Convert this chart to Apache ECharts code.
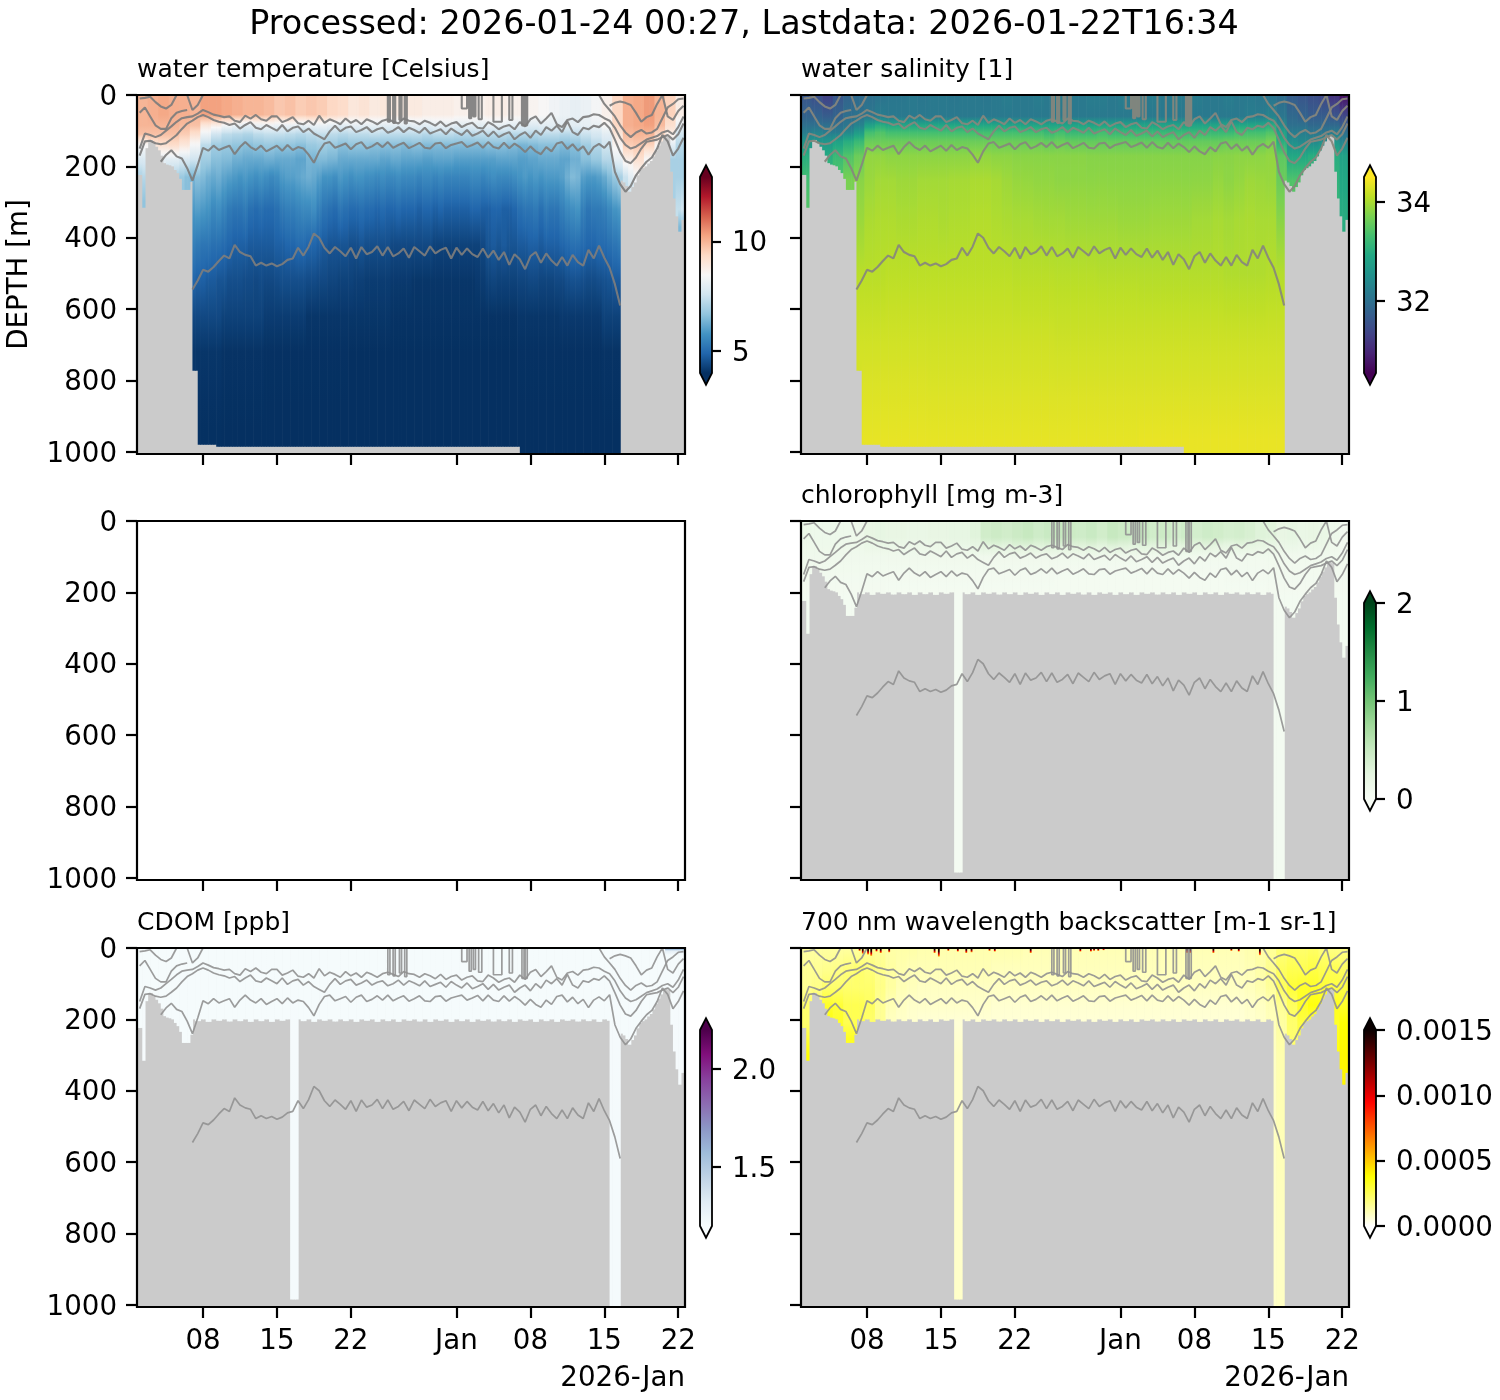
<!DOCTYPE html>
<html><head><meta charset="utf-8"><title>glider</title>
<script src="https://cdn.jsdelivr.net/npm/echarts@6/dist/echarts.min.js"></script>
<style>html,body{margin:0;padding:0;background:#fff}#c{width:1500px;height:1400px}</style></head>
<body><div id="c"></div>
<script>
// ---------- tick labels ----------
const tickDays=[8,15,22,32,39,46,53];
const tickLabels=['08','15','22','Jan','08','15','22'];
const depthTicks=[0,200,400,600,800,1000];
// ---------- isopycnal contours (half-day samples, depth in m) ----------
const L0=[10,8,5,20,32,38,28,0,null,0,42,28,0,null,null,null,null,null,null,null,null,null,null,null,null,null,null,null,null,null,null,null,null,null,null,null,null,null,null,null,null,null,null,null,null,null,null,null,null,null,null,null,null,null,null,null,null,null,null,null,null,null,null,null,null,null,null,null,null,null,null,null,null,null,null,null,null,null,null,null,null,null,null,null,null,null,null,0,25,42,60,85,105,118,105,98,108,105,95,65,35,25,12,10];
const L5=[50,35,60,85,95,95,65,50,45,42,null,null,null,null,null,null,null,null,null,null,null,null,null,null,null,null,null,null,null,null,null,null,null,null,null,null,null,null,null,null,null,null,null,null,null,null,null,null,null,null,null,null,null,null,null,null,null,null,null,null,null,null,null,null,null,null,null,null,null,null,null,null,null,null,null,null,null,null,null,null,null,null,null,null,null,null,null,null,null,30,22,18,22,28,50,75,62,56,25,0,60,70,45,30];
const L1=[150,108,112,118,112,100,88,75,65,62,60,52,42,48,55,58,62,60,72,76,58,66,56,68,72,60,60,76,70,62,79,82,72,84,58,78,68,74,82,66,78,70,82,68,74,82,72,68,74,80,66,72,74,82,72,78,86,74,88,80,76,90,82,78,92,94,76,84,96,88,84,96,76,88,68,60,80,66,50,82,90,70,66,76,62,60,54,56,65,72,92,120,140,150,145,135,125,120,115,105,100,110,90,60];
const L2=[170,130,128,135,138,135,124,112,95,80,72,62,56,62,70,75,78,84,80,94,84,76,92,96,84,92,100,84,102,92,88,104,94,108,116,124,102,86,102,92,88,104,98,90,104,96,92,106,100,90,104,92,98,106,92,108,102,96,110,94,104,112,98,114,108,100,116,102,118,110,104,124,112,104,120,100,112,90,100,86,104,74,104,112,92,96,86,90,78,93,125,160,185,191,175,150,131,128,125,118,112,125,110,80];
const L3=[null,null,null,null,187,168,155,172,178,205,240,196,148,156,142,154,148,142,166,146,132,146,154,142,158,150,142,156,140,154,146,150,167,190,158,136,132,148,142,136,152,138,132,150,144,134,146,132,148,140,134,149,142,134,148,150,136,134,149,140,136,132,146,140,133,148,132,146,150,134,149,136,146,160,144,158,166,146,158,136,132,151,138,156,144,167,146,137,148,131,215,250,271,255,225,205,187,175,150,112,130,170,150,120];
const L4=[null,null,null,null,null,null,null,null,null,null,545,520,490,495,482,465,450,458,420,440,448,452,478,470,478,472,480,474,462,458,428,450,425,388,400,428,444,426,438,452,428,458,426,446,440,424,450,426,452,444,430,456,426,438,450,424,444,434,428,458,428,448,430,446,454,430,456,436,462,440,476,446,460,488,452,440,470,444,464,478,454,478,448,468,478,434,458,422,456,484,530,590,null,null,null,null,null,null,null,null,null,null,null,null];
// narrow excursions of the shallowest contour: start day, end day, depth
const spikeStart=[25.5,26.0,26.6,27.1,32.5,33.2,33.6,34.1,35.5,37.0,38.2,38.5];
const spikeEnd=[25.7,26.2,26.8,27.3,33.0,33.4,33.8,34.4,36.3,37.3,38.4,38.7];
const spikeDepth=[75,78,70,80,38,65,60,68,75,70,85,85];
// ---------- data bottom per quarter-day column (m): [depth, columns] ----------
const deepRuns=[[224,2],[316,1],[149,1],[126,2],[135,1],[145,1],[155,1],[170,1],[191,1],[195,1],[197,1],[200,1],[210,1],[219,1],[235,1],[266,3],[243,1],[773,2],[980,7],[986,115],[1005,38],[240,1],[245,1],[255,1],[271,1],[258,1],[245,1],[225,1],[210,1],[205,1],[200,1],[192,1],[185,1],[172,1],[156,1],[142,1],[130,1],[118,1],[112,1],[118,1],[215,1],[290,1],[340,1],[383,1],[350,1],[300,1]];
const combBottom=[200,207,200,205,200,207,200,204,200,207,200,205,200,207,200,204,200,206,200,205,200,207,200,205,200,207,200,204,200,207,200,205,200,207,200,204,200,206,200,205,200,207,200,204,200,207,200,205,200,207,200,204,200,206,200,207,200,204,200,207,200,205,200,207,200,204,200,206,200,205,200,207,200,204,200,207,200,205,200,207,200,204,200,206,200,205,200,207,200,204,200,207,200,205,200,207,200,204,200,206,200,205,200,207];
// ---------- temperature: depth levels, degC ----------
const tempDepths=[0,55,85,110,140,180,230,320,420,520,620,720,1006];
const T0=[10.0,10.1,10.2,10.1,10.1,10.0,10.3,10.3,10.2,10.1,10.0,10.0,9.9,9.7,9.8,9.6,9.7,9.6,9.4,9.3,9.0,9.1,8.9,9.0,8.9,8.9,8.9,8.8,8.8,8.8,8.7,8.7,8.7,8.8,8.8,8.7,8.7,8.6,8.5,8.3,8.2,8.1,8.2,8.4,8.7,9.4,10.1,10.2,10.4,10.0,9.5,8.8];
const T85=[10.0,10.0,10.0,10.0,9.9,9.8,9.0,8.8,8.4,8.2,8.0,8.2,8.3,8.2,8.2,8.1,8.2,8.2,8.1,8.0,8.1,8.1,8.1,8.0,8.0,8.0,8.1,8.0,8.1,8.1,8.0,8.0,8.0,8.1,8.1,8.0,8.0,7.9,8.0,8.0,8.0,8.0,8.1,8.2,8.5,9.4,10.1,10.2,10.3,9.9,9.2,8.2];
const T110=[9.8,9.8,9.8,9.8,9.6,9.2,8.2,7.6,7.3,7.2,7.1,7.3,7.4,7.4,7.3,7.2,7.3,7.4,7.3,7.2,7.3,7.3,7.4,7.3,7.3,7.3,7.3,7.2,7.3,7.3,7.2,7.2,7.3,7.3,7.3,7.2,7.2,7.2,7.3,7.3,7.2,7.3,7.5,7.7,8.0,9.0,9.9,10.0,10.0,9.4,8.8,7.6];
const T140=[8.5,9.0,9.2,9.3,9.0,8.4,7.3,6.9,6.8,6.7,6.6,6.7,6.8,6.7,6.7,6.6,6.8,6.9,6.8,6.6,6.7,6.7,6.6,6.6,6.6,6.5,6.6,6.5,6.5,6.5,6.5,6.5,6.5,6.6,6.6,6.5,6.4,6.5,6.6,6.6,6.5,6.6,6.9,7.2,7.6,8.6,9.6,9.7,9.5,8.6,8.0,7.2];
const T180=[7.8,8.2,8.0,8.0,7.8,7.6,6.9,6.6,6.5,6.3,6.2,6.2,6.3,6.2,6.2,6.1,6.4,6.5,6.4,6.2,6.2,6.2,6.2,6.1,6.2,6.1,6.1,6.0,6.1,6.1,6.0,6.0,6.0,6.0,6.1,6.1,6.0,6.1,6.2,6.2,6.1,6.3,6.6,6.8,7.2,8.1,8.8,9.2,8.5,7.5,7.0,7.0];
const T230=[7.0,7.2,7.3,7.3,7.2,7.1,7.0,6.9,6.8,6.6,6.4,6.6,6.5,6.3,6.2,6.3,6.1,6.0,5.9,5.8,5.9,5.8,5.7,5.8,5.7,5.6,5.7,5.9,6.0,6.0,6.1,6.2,6.3,6.2,6.0,5.8,5.8,5.7,5.9,5.8,5.7,5.8,5.8,5.7,5.7,5.6,5.7,5.6,5.6,5.7,5.6,5.6,5.6,5.5,5.6,5.6,5.5,5.6,5.5,5.5,5.5,5.5,5.5,5.6,5.6,5.5,5.6,5.7,5.6,5.6,5.6,5.7,5.8,5.9,5.8,5.9,5.8,5.9,5.9,5.9,6.0,6.3,6.5,6.4,6.0,5.9,5.9,6.0,6.2,6.5,6.8,7.0,7.5,8.0,8.3,8.5,8.2,7.8,7.4,7.0,7.0,7.0,7.0,7.0];
const T320=[6.5,6.5,6.5,6.5,6.5,6.5,6.5,6.5,6.5,6.5,5.9,6.0,5.9,5.8,5.6,5.7,5.5,5.3,5.2,5.2,5.3,5.1,5.0,5.1,5.0,5.0,5.1,5.3,5.4,5.4,5.5,5.6,5.6,5.7,5.4,5.2,5.1,5.0,5.2,5.1,5.0,5.0,5.1,5.0,5.0,4.9,5.0,4.9,4.9,5.0,4.9,4.9,4.9,4.8,4.9,4.9,4.8,4.9,4.8,4.8,4.8,4.8,4.8,4.9,4.9,4.8,4.8,4.9,4.9,4.8,4.8,4.9,5.1,5.2,5.2,5.3,5.1,5.3,5.2,5.2,5.4,5.6,5.7,5.8,5.4,5.2,5.3,5.3,5.4,5.6,5.8,5.9,7.0,7.0,7.0,7.0,7.0,7.0,7.0,7.0,7.0,7.0,7.4,7.6];
const T420=[5.5,5.5,5.5,5.5,5.5,5.5,5.5,5.5,5.5,5.5,5.4,5.3,5.2,5.2,5.1,5.1,5.0,4.9,4.8,4.8,4.8,4.7,4.7,4.7,4.7,4.7,4.8,4.8,4.9,4.9,5.0,5.0,4.9,4.9,4.8,4.7,4.6,4.6,4.6,4.6,4.5,4.5,4.6,4.5,4.5,4.5,4.5,4.5,4.4,4.4,4.4,4.4,4.4,4.4,4.4,4.4,4.3,4.3,4.3,4.3,4.3,4.3,4.3,4.3,4.3,4.4,4.6,4.7,4.6,4.7,4.6,4.6,4.7,4.7,4.8,4.8,4.7,4.8,4.8,4.8,4.9,5.0,5.1,5.1,5.0,4.9,4.9,5.0,5.0,5.1,5.2,5.3,5.5,5.5,5.5,5.5,5.5,5.5,5.5,5.5,5.5,5.5,5.5,5.5];
const T520=[5.0,5.0,5.0,5.0,5.0,5.0,5.0,5.0,5.0,5.0,4.9,4.8,4.8,4.7,4.7,4.6,4.6,4.5,4.5,4.5,4.45,4.45,4.4,4.45,4.4,4.4,4.45,4.5,4.5,4.5,4.5,4.5,4.45,4.45,4.4,4.4,4.35,4.35,4.3,4.3,4.3,4.25,4.25,4.2,4.2,4.2,4.2,4.2,4.15,4.15,4.15,4.15,4.1,4.1,4.1,4.1,4.1,4.1,4.1,4.1,4.1,4.1,4.1,4.1,4.15,4.2,4.3,4.35,4.3,4.3,4.3,4.3,4.35,4.35,4.4,4.4,4.35,4.35,4.35,4.4,4.4,4.5,4.55,4.55,4.5,4.45,4.45,4.5,4.55,4.6,4.7,4.7,4.7,4.7,4.7,4.7,4.7,4.7,4.7,4.7,4.7,4.7,4.7,4.7];
const T620=[4.5,4.4,4.3,4.2,4.1,4.1,4.05,4.05,4.05,4.1,4.15,4.3,4.3];
const T720=[4.1,4.1,4.05,4.02,4.02,4.0,4.0,4.0,4.0,4.02,4.02,4.05,4.05];
const T1006=[3.98];
// ---------- salinity ----------
const saltDepths=[0,60,85,105,130,170,240,350,500,700,850,1006];
const S0=[31.6,31.5,31.3,31.6,31.8,31.9,32.0,32.05,32.1,32.1,32.15,32.1,32.15,32.15,32.1,32.15,32.15,32.1,32.15,32.2,32.15,32.15,32.2,32.15,32.2,32.15,32.15,32.2,32.2,32.15,32.2,32.15,32.15,32.2,32.15,32.2,32.15,32.2,32.15,32.15,32.2,32.15,32.15,32.1,32.05,31.95,31.7,31.6,31.5,31.4,31.1,30.7];
const S60=[31.8,31.8,31.7,31.8,32.0,32.05,32.1,32.2,32.15,32.15,32.15,32.15,32.15,32.15,32.15,32.15,32.15,32.15,32.15,32.15,32.15,32.15,32.15,32.15,32.15,32.15,32.15,32.15,32.15,32.15,32.15,32.15,32.15,32.15,32.15,32.15,32.15,32.15,32.15,32.15,32.15,32.15,32.2,32.2,32.3,32.1,31.9,31.8,31.7,31.7,31.6,31.4];
const S85=[32.0,32.0,32.0,32.0,32.1,32.3,32.8,33.0,32.9,32.9,32.9,32.9,32.9,32.9,32.9,32.9,32.9,32.9,32.9,32.85,32.85,32.85,32.85,32.85,32.85,32.85,32.85,32.85,32.85,32.85,32.85,32.85,32.85,32.85,32.85,32.85,32.85,32.85,32.85,32.85,32.85,32.9,32.9,32.9,33.0,32.4,32.0,32.0,31.9,31.9,31.9,31.7];
const S105=[32.2,32.3,32.2,32.2,32.4,32.7,33.3,33.4,33.3,33.3,33.3,33.3,33.3,33.3,33.3,33.3,33.3,33.3,33.3,33.3,33.3,33.3,33.3,33.2,33.3,33.2,33.2,33.2,33.3,33.2,33.2,33.2,33.2,33.2,33.2,33.2,33.2,33.2,33.2,33.2,33.2,33.3,33.3,33.3,33.4,32.8,32.2,32.2,32.1,32.1,32.2,32.0];
const S130=[32.6,32.6,32.6,32.8,33.0,33.2,33.6,33.6,33.6,33.6,33.6,33.6,33.6,33.6,33.6,33.6,33.6,33.6,33.6,33.6,33.6,33.6,33.6,33.55,33.6,33.55,33.55,33.55,33.55,33.55,33.55,33.55,33.55,33.55,33.55,33.55,33.55,33.55,33.55,33.55,33.6,33.6,33.6,33.6,33.7,33.0,32.5,32.4,32.4,32.5,32.6,32.3];
const S170=[33.0,33.0,33.0,33.2,33.4,33.6,33.85,33.85,33.82,33.82,33.82,33.82,33.82,33.82,33.82,33.82,33.85,33.85,33.82,33.82,33.8,33.8,33.8,33.8,33.8,33.8,33.8,33.78,33.78,33.78,33.78,33.78,33.78,33.78,33.78,33.78,33.78,33.78,33.78,33.8,33.8,33.82,33.82,33.82,33.85,33.5,32.9,32.9,33.0,33.0,33.0,32.8];
const S240=[33.3,33.3,33.3,33.5,33.7,33.8,33.9,33.95,33.95,33.92,33.92,33.95,33.95,33.95,33.97,33.97,34.0,34.0,33.97,33.92,33.88,33.87,33.85,33.85,33.83,33.83,33.83,33.82,33.83,33.82,33.82,33.82,33.82,33.82,33.83,33.83,33.82,33.83,33.83,33.87,33.83,33.87,33.92,33.9,33.88,33.6,33.4,33.4,33.3,33.2,33.1,32.9];
const S350=[33.5,33.5,33.5,33.6,33.8,33.9,34.0,34.02,34.02,34.0,34.0,34.02,34.02,34.0,34.02,34.02,34.05,34.05,34.02,34.0,33.98,33.98,33.96,33.95,33.95,33.93,33.93,33.92,33.92,33.92,33.9,33.9,33.9,33.92,33.92,33.92,33.92,33.95,33.95,33.98,33.95,33.98,34.0,33.98,33.98,33.8,33.6,33.6,33.5,33.4,33.2,33.0];
const S500=[34.06,34.08,34.1,34.1,34.1,34.08,34.07,34.06,34.05,34.05,34.03,34.05,34.05];
const S700=[34.23,34.23,34.23,34.22,34.22,34.22,34.21,34.21,34.21,34.21,34.21,34.21,34.21];
const S850=[34.31,34.31,34.31,34.3,34.3,34.3,34.3,34.3,34.3,34.3,34.3,34.3,34.3];
const S1006=[34.38,34.38,34.38,34.38,34.38,34.38,34.38,34.38,34.4,34.4,34.4,34.4,34.4];
// ---------- chlorophyll ----------
const chlDepths=[0,45,70,100,150,210,1006];
const C0=[0.15,0.12,0.12,0.12,0.12,0.13,0.2,0.22,0.2,0.2,0.18,0.18,0.2,0.2,0.22,0.22,0.28,0.42,0.45,0.42,0.46,0.5,0.44,0.48,0.5,0.46,0.44,0.48,0.42,0.5,0.46,0.44,0.48,0.42,0.46,0.4,0.44,0.4,0.44,0.42,0.38,0.4,0.36,0.3,0.28,0.2,0.22,0.18,0.2,0.18,0.12,0.06];
const C70=[0.12,0.12,0.12,0.12,0.12,0.12,0.16,0.16,0.16,0.15,0.14,0.14,0.15,0.15,0.16,0.16,0.2,0.26,0.28,0.26,0.3,0.3,0.28,0.3,0.3,0.28,0.28,0.3,0.26,0.3,0.28,0.26,0.28,0.26,0.28,0.24,0.26,0.24,0.26,0.24,0.22,0.24,0.22,0.2,0.18,0.15,0.16,0.14,0.15,0.14,0.1,0.05];
const C100=[0.1,0.1,0.1,0.1,0.1,0.1,0.09,0.09,0.08,0.08,0.08,0.08,0.08];
const C150=[0.07,0.07,0.06,0.06,0.06,0.06,0.05,0.05,0.05,0.05,0.06,0.07,0.07];
const C210=[0.05,0.05,0.04,0.04,0.04,0.04,0.04,0.04,0.04,0.04,0.04,0.05,0.05];
// ---------- CDOM ----------
const cdomDepths=[0,8,20,1006];
const A0=[1.21,1.21,1.21,1.21,1.21,1.21,1.21,1.21,1.21,1.21,1.21,1.21,1.21,1.21,1.21,1.21,1.21,1.21,1.21,1.21,1.21,1.21,1.21,1.21,1.24,1.8];
const A8=[1.21,1.21,1.21,1.21,1.21,1.21,1.21,1.21,1.21,1.21,1.21,1.21,1.21,1.21,1.21,1.21,1.21,1.21,1.21,1.21,1.21,1.21,1.21,1.21,1.21,1.3];
const A20=[1.21];
const A1006=[1.22];
// ---------- backscatter, in 1e-5 m-1 sr-1 ----------
const bbDepths=[0,60,110,160,210,300,1006];
const B0=[14,14,14,14,14,14,15,15,13,13,13,12,12,12,12,12,12,12,12,12,12,11,11,11,11,11,11,11,11,11,11,11,11,11,11,11,11,11,11,11,11,11,12,13,15,20,22,22,23,20,18,18];
const B60=[16,16,17,18,20,22,20,17,14,12,11,11,11,11,11,11,11,11,10,10,10,10,10,10,10,10,10,10,10,10,10,10,10,10,10,10,10,10,10,10,10,10,11,13,17,24,26,26,28,26,26,24];
const B110=[16,18,22,22,22,22,22,18,14,11,10,9,9,9,9,9,9,9,9,9,9,9,9,9,9,9,9,9,9,9,9,9,9,9,9,9,9,9,9,9,9,9,10,12,15,24,30,32,32,30,28,28];
const B160=[22,24,32,30,26,26,24,16,11,9,8,8,8,8,8,8,8,8,7,7,7,7,7,7,7,7,7,7,7,7,7,7,7,7,7,7,7,7,7,7,7,7,8,9,11,16,24,32,36,36,34,32];
const B210=[22,26,36,32,26,26,22,16,9,8,7,6,6,6,6,6,6,6,6,6,6,6,6,6,6,6,6,6,6,6,6,6,6,6,6,6,6,6,6,6,6,6,7,8,10,14,22,28,28,28,32,38];
const B300=[38,40,40,40,40,40,10,9,8,8,8,8,8,8,8,8,8,8,8,8,8,8,8,8,8,8,8,8,8,8,8,8,8,8,8,8,8,8,8,8,8,8,8,8,9,12,22,28,28,28,36,40];
const B1006=[8];
const bbSpikeDays=[7.3,7.6,8.1,8.4,8.9,9.3,10.1,14.4,14.8,15.7,16.6,17.4,17.9,19.6,20.1,23.5,28.2,29.2,29.5,29.9,30.4,38.3,38.6,40.8,42.5,43.2,45.2];
const bbSpikeDepths=[8,16,18,22,10,14,12,14,24,8,10,14,12,8,10,14,10,10,8,8,6,14,14,14,8,10,20];
// ---------- colour maps ----------
const RdBu=['#053061','#2166ac','#4393c3','#92c5de','#d1e5f0','#f7f7f7','#fddbc7','#f4a582','#d6604d','#b2182b','#67001f'];
const Viridis=['#440154','#482475','#414487','#355f8d','#2a788e','#21918c','#22a884','#44bf70','#7ad151','#bddf26','#fde725'];
const Greens=['#f7fcf5','#e5f5e0','#c7e9c0','#a1d99b','#74c476','#41ab5d','#238b45','#006d2c','#00441b'];
const BuPu=['#f7fcfd','#e0ecf4','#bfd3e6','#9ebcda','#8c96c6','#8c6bb1','#88419d','#810f7c','#4d004b'];
const HotR=['#ffffff','#ffff00','#ff0000','#800000','#0a0000'];
const HotPos=[0,0.254,0.635,0.82,1];

const xMin=1.75,xMax=53.64,yMax=1006,N=208,STEP=0.25,LSTEP=0.5;
const deepBottom=[];deepRuns.forEach(r=>{for(let k=0;k<r[1];k++)deepBottom.push(r[0]);});
const gapCols=[58,59,60,179,180,181,182];
const shallowBottom=deepBottom.map((b,i)=>{
  if(i<=20||i>=183)return b;
  if(gapCols.indexOf(i)>=0)return i<100?985:1005;
  return combBottom[Math.floor(i/2)];
});
const hex=c=>[1,3,5].map(p=>parseInt(c.substr(p,2),16));
function cmapColor(cm,t){
  t=Math.max(0,Math.min(1,t));
  const pos=cm.pos||cm.colors.map((_,i)=>i/(cm.colors.length-1));
  let j=0;while(j<pos.length-2&&t>pos[j+1])j++;
  const f=Math.max(0,Math.min(1,(t-pos[j])/(pos[j+1]-pos[j])));
  const a=hex(cm.colors[j]),b=hex(cm.colors[j+1]);
  return 'rgb('+a.map((v,k)=>Math.round(v+(b[k]-v)*f)).join(',')+')';
}
const at=(arr,col)=>arr[Math.min(arr.length-1,Math.floor(col*arr.length/N))];

const F='"DejaVu Sans"',TF=27.7;
const labelRich={a:{fontFamily:F,fontSize:TF,color:'#000',padding:[5,0,0,0]}};
const leftX=[137,801],rowTop=[95,521,948],PW=548,PH=359;
const panels=[
 {c:0,r:0,title:'water temperature [Celsius]',cm:{colors:RdBu},vmin:4.0,vmax:12.95,depths:tempDepths,levels:[T0,T0,T85,T110,T140,T180,T230,T320,T420,T520,T620,T720,T1006],bottom:deepBottom,ticks:[5,10],fmt:v=>String(v),line:{color:'rgba(125,125,125,0.92)',w:2.1},lab:true},
 {c:1,r:0,title:'water salinity [1]',cm:{colors:Viridis},vmin:30.55,vmax:34.5,depths:saltDepths,levels:[S0,S60,S85,S105,S130,S170,S240,S350,S500,S700,S850,S1006],bottom:deepBottom,ticks:[32,34],fmt:v=>String(v),line:{color:'rgba(135,135,125,0.92)',w:2.1}},
 {c:0,r:1,title:'',lab:true},
 {c:1,r:1,title:'chlorophyll [mg m-3]',cm:{colors:Greens},vmin:0,vmax:2,depths:chlDepths,levels:[C0,C0,C70,C100,C150,C210,C210],bottom:shallowBottom,ticks:[0,1,2],fmt:v=>String(v),line:{color:'rgba(145,145,145,0.9)',w:1.7}},
 {c:0,r:2,title:'CDOM [ppb]',cm:{colors:BuPu},vmin:1.2,vmax:2.2,depths:cdomDepths,levels:[A0,A8,A20,A1006],bottom:shallowBottom,ticks:[1.5,2.0],fmt:v=>v.toFixed(1),line:{color:'rgba(145,145,145,0.9)',w:1.7},lab:true,xlab:true},
 {c:1,r:2,title:'700 nm wavelength backscatter [m-1 sr-1]',cm:{colors:HotR,pos:HotPos},vmin:0,vmax:150,depths:bbDepths,levels:[B0,B60,B110,B160,B210,B300,B1006],bottom:shallowBottom,ticks:[0,50,100,150],fmt:v=>(v*1e-5).toFixed(4),line:{color:'rgba(145,145,145,0.9)',w:1.7},xlab:true,spikes:true}
];
const grid=[],xAxis=[],yAxis=[],series=[],title=[];
const T=(o,size)=>Object.assign({padding:0,textStyle:{fontFamily:F,fontSize:size,fontWeight:'normal',color:'#000'}},o);
title.push(T({text:'Processed: 2026-01-24 00:27, Lastdata: 2026-01-22T16:34',left:744,top:9,textAlign:'center'},33.4));
const lineSets=[L0,L5,L1,L2,L3,L4];
const spikeLine=[];
spikeStart.forEach((s,i)=>{spikeLine.push([s,0],[s,spikeDepth[i]],[spikeEnd[i],spikeDepth[i]],[spikeEnd[i],0],[spikeEnd[i],null]);});
const tick={show:true,length:11,lineStyle:{color:'#000',width:2.2}};
panels.forEach(p=>{
  const gi=grid.length,x=leftX[p.c],y=rowTop[p.r];
  grid.push({left:x,top:y,width:PW,height:PH,show:true,backgroundColor:p.cm?'#cbcbcb':'#ffffff',borderWidth:0});
  xAxis.push({type:'value',gridIndex:gi,min:xMin,max:xMax,position:'bottom',axisLine:{show:false,onZero:false},splitLine:{show:false},
    axisTick:Object.assign({customValues:tickDays},tick),
    axisLabel:{show:!!p.xlab,customValues:tickDays,margin:21,fontFamily:F,fontSize:TF,color:'#000',formatter:v=>tickLabels[tickDays.indexOf(v)]}});
  yAxis.push({type:'value',gridIndex:gi,inverse:true,min:0,max:yMax,position:'left',name:(p.c===0&&p.r===0)?'DEPTH [m]':'',nameLocation:'middle',nameGap:103,nameTextStyle:{fontFamily:F,fontSize:TF,color:'#000'},
    axisLine:{show:false,onZero:false},splitLine:{show:false},
    axisTick:Object.assign({customValues:depthTicks},tick),
    axisLabel:{show:!!p.lab,customValues:depthTicks,margin:20,formatter:v=>'{a|'+v+'}',rich:labelRich}});
  if(p.title) title.push(T({text:p.title,left:x,top:y-37},25));
  if(p.cm){
    const cols=Array.from({length:N},(_,i)=>[xMin+i*STEP,p.bottom[i]]);
    series.push({type:'custom',xAxisIndex:gi,yAxisIndex:gi,coordinateSystem:'cartesian2d',clip:true,silent:true,z:1,data:cols,encode:{x:0,y:1},
      renderItem:(params,api)=>{
        const i=params.dataIndex,b=p.bottom[i],d0=xMin+i*STEP;
        const a=api.coord([d0,0]),e=api.coord([d0+STEP,b]);
        const stops=[];
        const col=v=>cmapColor(p.cm,(v-p.vmin)/(p.vmax-p.vmin));
        for(let k=0;k<p.depths.length-1;k++){
          const z0=p.depths[k],z1=p.depths[k+1];
          if(z0>=b)break;
          const v0=at(p.levels[k],i),v1=at(p.levels[k+1],i);
          for(let s=0;s<4;s++){
            const z=z0+(z1-z0)*s/4;
            if(z<=b)stops.push({offset:z/b,color:col(v0+(v1-v0)*s/4)});
          }
        }
        stops.push({offset:1,color:stops[stops.length-1].color});
        return {type:'rect',shape:{x:a[0],y:a[1],width:e[0]-a[0]+0.6,height:e[1]-a[1]},
          style:{fill:new echarts.graphic.LinearGradient(0,0,0,1,stops)}};
      }});
    if(p.spikes){
      series.push({type:'custom',xAxisIndex:gi,yAxisIndex:gi,coordinateSystem:'cartesian2d',clip:true,silent:true,z:2,
        data:bbSpikeDays.map((d,i)=>[d,bbSpikeDepths[i]]),encode:{x:0,y:1},
        renderItem:(params,api)=>{
          const a=api.coord([api.value(0),0]),e=api.coord([api.value(0),api.value(1)]);
          return {type:'rect',shape:{x:a[0]-0.9,y:a[1],width:1.8,height:e[1]-a[1]},
            style:{fill:new echarts.graphic.LinearGradient(0,0,0,1,[{offset:0,color:'#000'},{offset:0.4,color:'#300000'},{offset:0.7,color:'#e00000'},{offset:1,color:'#ffb000'}])}};
        }});
    }
    lineSets.forEach(L=>{
      series.push({type:'line',xAxisIndex:gi,yAxisIndex:gi,silent:true,z:3,showSymbol:false,connectNulls:false,animation:false,
        data:L.map((v,i)=>[xMin+(i+0.5)*LSTEP,v]),lineStyle:{color:p.line.color,width:p.line.w}});
    });
    series.push({type:'line',xAxisIndex:gi,yAxisIndex:gi,silent:true,z:3,showSymbol:false,connectNulls:false,animation:false,
      data:spikeLine,lineStyle:{color:p.line.color,width:p.line.w}});
    // colour bar: its own small grid and value axis
    const bi=grid.length,bx=x+563,bt=y+82,bh=196;
    grid.push({left:bx,top:bt,width:12,height:bh,show:false});
    xAxis.push({type:'value',gridIndex:bi,min:0,max:1,show:false});
    yAxis.push({type:'value',gridIndex:bi,min:p.vmin,max:p.vmax,position:'right',axisLine:{show:false,onZero:false},splitLine:{show:false},
      axisTick:{show:true,length:9,lineStyle:{color:'#000',width:2.2},customValues:p.ticks},
      axisLabel:{show:true,customValues:p.ticks,margin:20,formatter:v=>'{a|'+p.fmt(v)+'}',rich:labelRich}});
    const ext=(p.vmax-p.vmin)*0.06;
    series.push({type:'custom',xAxisIndex:bi,yAxisIndex:bi,coordinateSystem:'cartesian2d',silent:true,z:2,data:[[0,p.vmin]],encode:{x:0,y:1},
      renderItem:(params,api)=>{
        const lo=api.coord([0,p.vmin]),hi=api.coord([1,p.vmax]),tipT=api.coord([0.5,p.vmax+ext]),tipB=api.coord([0.5,p.vmin-ext]);
        const stops=[];for(let s=0;s<=40;s++)stops.push({offset:s/40,color:cmapColor(p.cm,s/40)});
        const top=cmapColor(p.cm,1),bot=cmapColor(p.cm,0);
        return {type:'group',children:[
          {type:'rect',shape:{x:lo[0],y:hi[1],width:hi[0]-lo[0],height:lo[1]-hi[1]},style:{fill:new echarts.graphic.LinearGradient(0,1,0,0,stops)}},
          {type:'polygon',shape:{points:[[lo[0],hi[1]],[hi[0],hi[1]],tipT]},style:{fill:top}},
          {type:'polygon',shape:{points:[[lo[0],lo[1]],[hi[0],lo[1]],tipB]},style:{fill:bot}},
          {type:'polygon',shape:{points:[[lo[0],hi[1]],tipT,[hi[0],hi[1]],[hi[0],lo[1]],tipB,[lo[0],lo[1]]]},style:{fill:'none',stroke:'#000',lineWidth:1.8}}
        ]};
      }});
  }
  // axes frame
  series.push({type:'custom',xAxisIndex:gi,yAxisIndex:gi,coordinateSystem:'cartesian2d',silent:true,z:9,data:[[xMin,0]],encode:{x:0,y:1},
    renderItem:(params,api)=>{
      const a=api.coord([xMin,0]),e=api.coord([xMax,yMax]);
      return {type:'rect',shape:{x:a[0],y:a[1],width:e[0]-a[0],height:e[1]-a[1]},style:{fill:'none',stroke:'#000',lineWidth:2.2}};
    }});
  if(p.xlab) title.push(T({text:'2026-Jan',right:1500-(x+PW),top:1365},TF));
});
const chart=echarts.init(document.getElementById('c'),null,{renderer:'canvas',width:1500,height:1400});
chart.setOption({animation:false,backgroundColor:'#fff',title,grid,xAxis,yAxis,series});
</script></body></html>
